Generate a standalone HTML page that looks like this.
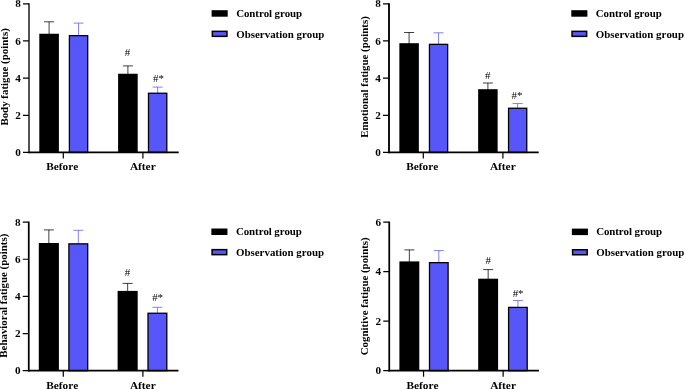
<!DOCTYPE html>
<html><head><meta charset="utf-8"><title>Figure</title>
<style>html,body{margin:0;padding:0;background:#fff}svg{display:block;will-change:transform}text{font-family:'Liberation Serif', 'DejaVu Serif', serif;font-size:10.9px;font-kerning:none;fill:#000}.b{font-weight:bold}.t{font-size:11.2px}.x{font-size:11.35px}.y{font-size:10.9px}</style></head><body>
<svg width="685" height="389" viewBox="0 0 685 389">
<rect x="0" y="0" width="685" height="389" fill="#fff"/>
<g>
<path d="M49.10 34.75V21.80M44.10 21.80H54.10" stroke="#000" stroke-width="0.75" fill="none"/>
<rect x="39.30" y="33.75" width="19.60" height="118.70" fill="#000"/>
<path d="M78.55 36.00V23.10M73.55 23.10H83.55" stroke="#5757F9" stroke-width="0.75" fill="none"/>
<rect x="69.40" y="35.65" width="18.30" height="116.80" fill="#5757F9" stroke="#000" stroke-width="1.3"/>
<path d="M127.90 74.75V65.90M122.90 65.90H132.90" stroke="#000" stroke-width="0.75" fill="none"/>
<rect x="118.10" y="73.75" width="19.60" height="78.70" fill="#000"/>
<path d="M157.65 93.60V87.10M152.65 87.10H162.65" stroke="#5757F9" stroke-width="0.75" fill="none"/>
<rect x="148.50" y="93.25" width="18.30" height="59.20" fill="#5757F9" stroke="#000" stroke-width="1.3"/>
<path d="M29.00 3.25V153.30" stroke="#000" stroke-width="1.35" fill="none"/>
<path d="M28.30 152.45H178.70" stroke="#000" stroke-width="1.70" fill="none"/>
<path d="M23.00 152.45H29.00M23.00 115.29H29.00M23.00 78.12H29.00M23.00 40.96H29.00M23.00 3.80H29.00M63.30 152.45V158.45M142.90 152.45V158.45" stroke="#000" stroke-width="1.2" fill="none"/>
<text class="b t" x="20.90" y="156.05" text-anchor="end">0</text>
<text class="b t" x="20.90" y="118.89" text-anchor="end">2</text>
<text class="b t" x="20.90" y="81.72" text-anchor="end">4</text>
<text class="b t" x="20.90" y="44.56" text-anchor="end">6</text>
<text class="b t" x="20.90" y="7.40" text-anchor="end">8</text>
<text class="b x" x="62.20" y="169.95" text-anchor="middle">Before</text>
<text class="b x" x="142.80" y="169.95" text-anchor="middle">After</text>
<text class="b y" transform="translate(7.70 76.90) rotate(-90)" text-anchor="middle">Body fatigue (points)</text>
<text x="127.40" y="56.00" text-anchor="middle">#</text>
<text x="158.50" y="81.50" text-anchor="middle">#*</text>
<rect x="211.60" y="10.20" width="16.1" height="6.5" fill="#000"/>
<rect x="212.35" y="31.35" width="14.6" height="5.0" fill="#5757F9" stroke="#000" stroke-width="1.5"/>
<text class="b" x="236.20" y="17.20" textLength="65.9" lengthAdjust="spacing">Control group</text>
<text class="b" x="236.20" y="37.80" textLength="88.2" lengthAdjust="spacing">Observation group</text>
</g>
<g>
<path d="M409.10 44.20V32.50M404.10 32.50H414.10" stroke="#000" stroke-width="0.75" fill="none"/>
<rect x="399.35" y="43.20" width="19.50" height="109.25" fill="#000"/>
<path d="M438.55 44.70V32.80M433.55 32.80H443.55" stroke="#5757F9" stroke-width="0.75" fill="none"/>
<rect x="429.45" y="44.35" width="18.20" height="108.10" fill="#5757F9" stroke="#000" stroke-width="1.3"/>
<path d="M487.90 90.20V83.00M482.90 83.00H492.90" stroke="#000" stroke-width="0.75" fill="none"/>
<rect x="478.15" y="89.20" width="19.50" height="63.25" fill="#000"/>
<path d="M517.65 108.60V103.55M512.65 103.55H522.65" stroke="#5757F9" stroke-width="0.75" fill="none"/>
<rect x="508.55" y="108.25" width="18.20" height="44.20" fill="#5757F9" stroke="#000" stroke-width="1.3"/>
<path d="M389.00 3.25V153.30" stroke="#000" stroke-width="1.85" fill="none"/>
<path d="M388.30 152.45H538.70" stroke="#000" stroke-width="1.70" fill="none"/>
<path d="M383.00 152.45H389.00M383.00 115.29H389.00M383.00 78.12H389.00M383.00 40.96H389.00M383.00 3.80H389.00M423.30 152.45V158.45M502.90 152.45V158.45" stroke="#000" stroke-width="1.2" fill="none"/>
<text class="b t" x="380.90" y="156.05" text-anchor="end">0</text>
<text class="b t" x="380.90" y="118.89" text-anchor="end">2</text>
<text class="b t" x="380.90" y="81.72" text-anchor="end">4</text>
<text class="b t" x="380.90" y="44.56" text-anchor="end">6</text>
<text class="b t" x="380.90" y="7.40" text-anchor="end">8</text>
<text class="b x" x="422.20" y="169.95" text-anchor="middle">Before</text>
<text class="b x" x="502.80" y="169.95" text-anchor="middle">After</text>
<text class="b y" transform="translate(367.70 77.00) rotate(-90)" text-anchor="middle">Emotional fatigue (points)</text>
<text x="487.80" y="79.40" text-anchor="middle">#</text>
<text x="517.00" y="99.00" text-anchor="middle">#*</text>
<rect x="571.30" y="10.20" width="16.1" height="6.5" fill="#000"/>
<rect x="572.05" y="31.35" width="14.6" height="5.0" fill="#5757F9" stroke="#000" stroke-width="1.5"/>
<text class="b" x="595.80" y="17.20" textLength="65.9" lengthAdjust="spacing">Control group</text>
<text class="b" x="595.80" y="37.80" textLength="88.2" lengthAdjust="spacing">Observation group</text>
</g>
<g>
<path d="M48.85 244.00V229.90M43.85 229.90H53.85" stroke="#000" stroke-width="0.75" fill="none"/>
<rect x="38.80" y="243.00" width="20.10" height="127.70" fill="#000"/>
<path d="M78.30 244.20V230.30M73.30 230.30H83.30" stroke="#5757F9" stroke-width="0.75" fill="none"/>
<rect x="68.90" y="243.85" width="18.80" height="126.85" fill="#5757F9" stroke="#000" stroke-width="1.3"/>
<path d="M127.65 291.90V283.40M122.65 283.40H132.65" stroke="#000" stroke-width="0.75" fill="none"/>
<rect x="117.60" y="290.90" width="20.10" height="79.80" fill="#000"/>
<path d="M157.40 313.60V307.30M152.40 307.30H162.40" stroke="#5757F9" stroke-width="0.75" fill="none"/>
<rect x="148.00" y="313.25" width="18.80" height="57.45" fill="#5757F9" stroke="#000" stroke-width="1.3"/>
<path d="M28.75 221.55V371.55" stroke="#000" stroke-width="1.75" fill="none"/>
<path d="M28.05 370.70H178.45" stroke="#000" stroke-width="1.70" fill="none"/>
<path d="M22.75 370.70H28.75M22.75 333.55H28.75M22.75 296.40H28.75M22.75 259.25H28.75M22.75 222.10H28.75M63.30 370.70V376.70M142.90 370.70V376.70" stroke="#000" stroke-width="1.2" fill="none"/>
<text class="b t" x="20.65" y="374.30" text-anchor="end">0</text>
<text class="b t" x="20.65" y="337.15" text-anchor="end">2</text>
<text class="b t" x="20.65" y="300.00" text-anchor="end">4</text>
<text class="b t" x="20.65" y="262.85" text-anchor="end">6</text>
<text class="b t" x="20.65" y="225.70" text-anchor="end">8</text>
<text class="b x" x="62.20" y="388.50" text-anchor="middle">Before</text>
<text class="b x" x="142.80" y="388.50" text-anchor="middle">After</text>
<text class="b y" transform="translate(7.45 295.70) rotate(-90)" text-anchor="middle">Behavioral fatigue (points)</text>
<text x="127.60" y="276.00" text-anchor="middle">#</text>
<text x="157.60" y="301.20" text-anchor="middle">#*</text>
<rect x="211.35" y="228.50" width="16.1" height="6.5" fill="#000"/>
<rect x="212.10" y="249.65" width="14.6" height="5.0" fill="#5757F9" stroke="#000" stroke-width="1.5"/>
<text class="b" x="235.95" y="235.00" textLength="65.9" lengthAdjust="spacing">Control group</text>
<text class="b" x="235.95" y="255.60" textLength="88.2" lengthAdjust="spacing">Observation group</text>
</g>
<g>
<path d="M409.35 262.40V249.90M404.35 249.90H414.35" stroke="#000" stroke-width="0.75" fill="none"/>
<rect x="399.40" y="261.40" width="19.90" height="109.30" fill="#000"/>
<path d="M438.80 263.00V250.60M433.80 250.60H443.80" stroke="#5757F9" stroke-width="0.75" fill="none"/>
<rect x="429.50" y="262.65" width="18.60" height="108.05" fill="#5757F9" stroke="#000" stroke-width="1.3"/>
<path d="M488.15 279.70V269.60M483.15 269.60H493.15" stroke="#000" stroke-width="0.75" fill="none"/>
<rect x="478.20" y="278.70" width="19.90" height="92.00" fill="#000"/>
<path d="M517.90 307.75V300.55M512.90 300.55H522.90" stroke="#5757F9" stroke-width="0.75" fill="none"/>
<rect x="508.60" y="307.40" width="18.60" height="63.30" fill="#5757F9" stroke="#000" stroke-width="1.3"/>
<path d="M389.25 221.65V371.55" stroke="#000" stroke-width="1.75" fill="none"/>
<path d="M388.55 370.70H538.95" stroke="#000" stroke-width="1.70" fill="none"/>
<path d="M383.25 370.70H389.25M383.25 321.20H389.25M383.25 271.70H389.25M383.25 222.20H389.25M423.55 370.70V376.70M503.15 370.70V376.70" stroke="#000" stroke-width="1.2" fill="none"/>
<text class="b t" x="381.15" y="374.30" text-anchor="end">0</text>
<text class="b t" x="381.15" y="324.80" text-anchor="end">2</text>
<text class="b t" x="381.15" y="275.30" text-anchor="end">4</text>
<text class="b t" x="381.15" y="225.80" text-anchor="end">6</text>
<text class="b x" x="422.45" y="388.50" text-anchor="middle">Before</text>
<text class="b x" x="503.05" y="388.50" text-anchor="middle">After</text>
<text class="b y" transform="translate(367.95 296.30) rotate(-90)" text-anchor="middle">Cognitive fatigue (points)</text>
<text x="488.30" y="263.80" text-anchor="middle">#</text>
<text x="518.10" y="296.80" text-anchor="middle">#*</text>
<rect x="571.85" y="228.60" width="16.1" height="6.5" fill="#000"/>
<rect x="572.60" y="249.75" width="14.6" height="5.0" fill="#5757F9" stroke="#000" stroke-width="1.5"/>
<text class="b" x="596.15" y="235.10" textLength="65.9" lengthAdjust="spacing">Control group</text>
<text class="b" x="596.15" y="255.70" textLength="88.2" lengthAdjust="spacing">Observation group</text>
</g>
</svg></body></html>
